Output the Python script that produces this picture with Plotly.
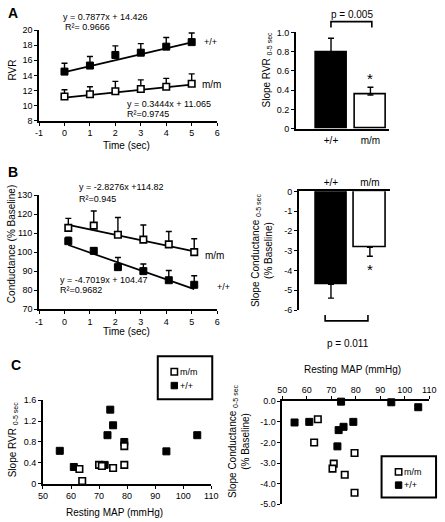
import plotly.graph_objects as go

W, H = 445, 522
FONT = "Liberation Sans, Arial, sans-serif"


def px(x):
    return x / W


def py(y):
    return 1 - y / H


# ---------------- data ----------------
# Panel A (RVR vs time)
time_a = [0, 1, 2, 3, 4, 5]
rvr_wt = [14.5, 15.3, 16.7, 17.0, 17.8, 18.4]
rvr_wt_err = [1.1, 1.2, 1.2, 1.2, 1.2, 1.2]
rvr_mm = [11.2, 11.5, 11.9, 12.2, 12.5, 12.9]
rvr_mm_err = [0.9, 1.0, 1.3, 1.2, 1.1, 1.3]
fit_a_wt = (0.7877, 14.426)
fit_a_mm = (0.3444, 11.065)

genotypes = ["+/+", "m/m"]
slope_rvr = [0.79, 0.35]
slope_rvr_err = [0.15, 0.08]
star_rvr = 0.52          # height of the significance star (panel A right)

# Panel B (conductance vs time)
time_b = [0.15, 1.15, 2.1, 3.1, 4.1, 5.1]
cond_wt = [105.8, 100.7, 92.1, 90.0, 85.2, 82.8]
cond_wt_err = [2.1, 1.7, 5.1, 3.8, 5.1, 4.8]
cond_mm = [112.8, 114.0, 109.2, 106.6, 104.1, 100.0]
cond_mm_err = [5.0, 7.7, 9.1, 7.7, 6.8, 7.1]
fit_b_wt = (-4.7019, 104.47)
fit_b_mm = (-2.8276, 114.82)

slope_cond = [-4.70, -2.83]
slope_cond_err = [0.70, 0.45]
star_cond = -3.95        # height of the significance star (panel B right)

# Panel C (slopes vs resting MAP)
map_rvr_wt = [56, 61, 74, 75, 73, 79, 72, 94, 105]
srvr_wt = [0.63, 0.32, 1.42, 1.12, 0.93, 0.80, 0.36, 0.62, 0.93]
map_rvr_mm = [63, 64, 70, 71, 75, 79, 79]
srvr_mm = [0.28, 0.05, 0.36, 0.34, 0.30, 0.72, 0.36]

map_cond_wt = [55, 61, 74, 79, 75, 73, 72.5, 94.5, 105.5]
scond_wt = [-1.03, -1.00, -0.02, -1.00, -1.24, -1.40, -2.19, -0.05, -0.29]
map_cond_mm = [64.5, 63, 71, 70.5, 75.5, 79.5, 79.5]
scond_mm = [-0.87, -2.00, -3.03, -3.27, -3.57, -2.51, -4.44]

# tick labels
time_ticks = [-1, 0, 1, 2, 3, 4, 5, 6]
time_ticktext = ["-1", "0", "1", "2", "3", "4", "5", "6"]
rvr_slope_ticks = [0, 0.2, 0.4, 0.6, 0.8, 1.0]
rvr_slope_ticktext = ["0", "0.2", "0.4", "0.6", "0.8", "1.0"]
cond_slope_ticks = [0, -1, -2, -3, -4, -5, -6]
cond_slope_ticktext = ["0", "-1", "-2", "-3", "-4", "-5", "-6"]
c_rvr_ticks = [0, 0.4, 0.8, 1.2, 1.6]
c_rvr_ticktext = ["0", "0.4", "0.8", "1.2", "1.6"]
c_cond_ticks = [0, -1, -2, -3, -4, -5]
c_cond_ticktext = ["0.0", "-1.0", "-2.0", "-3.0", "-4.0", "-5.0"]

# ---------------- styles ----------------
BLACK_MK = dict(symbol="square", size=7, color="black", line=dict(color="black", width=1))
WHITE_MK = dict(symbol="square", size=6.5, color="white", line=dict(color="black", width=1.6))


def err(arr, minus=None):
    return dict(type="data", array=arr, arrayminus=minus if minus is not None else [0] * len(arr),
                symmetric=False, color="black", thickness=1.4, width=3)


fig = go.Figure()

# ---- Panel A left ----
for (m, b), t in [(fit_a_wt, time_a), (fit_a_mm, time_a)]:
    xs = [t[0], t[-1]]
    fig.add_trace(go.Scatter(x=xs, y=[m * x + b for x in xs], mode="lines",
                             line=dict(color="black", width=1.7), showlegend=False,
                             hoverinfo="skip", xaxis="x", yaxis="y"))
fig.add_trace(go.Scatter(x=time_a, y=rvr_wt, mode="markers", marker=BLACK_MK, name="+/+",
                         error_y=err(rvr_wt_err), showlegend=False, cliponaxis=False,
                         xaxis="x", yaxis="y"))
fig.add_trace(go.Scatter(x=time_a, y=rvr_mm, mode="markers", marker=WHITE_MK, name="m/m",
                         error_y=err(rvr_mm_err), showlegend=False, cliponaxis=False,
                         xaxis="x", yaxis="y"))

# ---- Panel A right ----
fig.add_trace(go.Bar(x=genotypes, y=slope_rvr, width=0.79,
                     marker=dict(color=["black", "white"], line=dict(color="black", width=1.6)),
                     error_y=err(slope_rvr_err), showlegend=False, xaxis="x2", yaxis="y2"))

# ---- Panel B left ----
for (m, b), t in [(fit_b_wt, time_b), (fit_b_mm, time_b)]:
    xs = [t[0], t[-1]]
    fig.add_trace(go.Scatter(x=xs, y=[m * x + b for x in xs], mode="lines",
                             line=dict(color="black", width=1.7), showlegend=False,
                             hoverinfo="skip", xaxis="x3", yaxis="y3"))
fig.add_trace(go.Scatter(x=time_b, y=cond_wt, mode="markers", marker=BLACK_MK, name="+/+",
                         error_y=err(cond_wt_err), showlegend=False, cliponaxis=False,
                         xaxis="x3", yaxis="y3"))
fig.add_trace(go.Scatter(x=time_b, y=cond_mm, mode="markers", marker=WHITE_MK, name="m/m",
                         error_y=err(cond_mm_err), showlegend=False, cliponaxis=False,
                         xaxis="x3", yaxis="y3"))

# ---- Panel B right ----
fig.add_trace(go.Bar(x=genotypes, y=slope_cond, width=0.8,
                     marker=dict(color=["black", "white"], line=dict(color="black", width=1.6)),
                     error_y=err([0, 0], slope_cond_err), showlegend=False,
                     xaxis="x4", yaxis="y4"))

# ---- Panel C left ----
fig.add_trace(go.Scatter(x=map_rvr_wt, y=srvr_wt, mode="markers", name="+/+",
                         marker=BLACK_MK, showlegend=False, cliponaxis=False,
                         xaxis="x5", yaxis="y5"))
fig.add_trace(go.Scatter(x=map_rvr_mm, y=srvr_mm, mode="markers", name="m/m",
                         marker=WHITE_MK, showlegend=False, cliponaxis=False,
                         xaxis="x5", yaxis="y5"))

# ---- Panel C right ----
fig.add_trace(go.Scatter(x=map_cond_wt, y=scond_wt, mode="markers", name="+/+",
                         marker=BLACK_MK, showlegend=False, cliponaxis=False,
                         xaxis="x6", yaxis="y6"))
fig.add_trace(go.Scatter(x=map_cond_mm, y=scond_mm, mode="markers", name="m/m",
                         marker=WHITE_MK, showlegend=False, cliponaxis=False,
                         xaxis="x6", yaxis="y6"))

# ---------------- axes ----------------
AX = dict(showline=True, linecolor="black", linewidth=1.7, ticks="outside", ticklen=3,
          tickwidth=1.4, tickcolor="black", showgrid=False, zeroline=False,
          tickfont=dict(size=9, color="black", family=FONT), fixedrange=True)

layout_axes = dict(
    xaxis=dict(AX, domain=[px(35), px(218)], range=[-1, 6], tickvals=time_ticks,
               ticktext=time_ticktext, anchor="y"),
    yaxis=dict(AX, domain=[py(118), py(25.5)], range=[8, 20], dtick=2, anchor="x"),
    xaxis2=dict(AX, domain=[px(299), px(395)], type="category", categoryarray=genotypes,
                range=[-0.89, 1.48], ticks="", anchor="y2", ticklabelstandoff=2,
                tickfont=dict(size=10, color="black", family=FONT)),
    yaxis2=dict(AX, domain=[py(126), py(28)], range=[0, 1], tickvals=rvr_slope_ticks,
                ticktext=rvr_slope_ticktext, anchor="x2"),
    xaxis3=dict(AX, domain=[px(35), px(218)], range=[-1, 6], tickvals=time_ticks,
                ticktext=time_ticktext, anchor="y3"),
    yaxis3=dict(AX, domain=[py(310), py(194)], range=[70, 130], dtick=10, anchor="x3"),
    xaxis4=dict(AX, domain=[px(302), px(396)], type="category", categoryarray=genotypes,
                range=[-0.825, 1.525], ticks="", side="top", anchor="y4",
                tickfont=dict(size=10, color="black", family=FONT)),
    yaxis4=dict(AX, domain=[py(311), py(190)], range=[-6, 0], tickvals=cond_slope_ticks,
                ticktext=cond_slope_ticktext, anchor="x4"),
    xaxis5=dict(AX, domain=[px(39), px(212)], range=[50, 110], dtick=10, anchor="y5"),
    yaxis5=dict(AX, domain=[py(488), py(403)], range=[0, 1.6], tickvals=c_rvr_ticks,
                ticktext=c_rvr_ticktext, anchor="x5"),
    xaxis6=dict(AX, domain=[px(285), px(436)], range=[50, 110], dtick=10, side="top",
                anchor="y6"),
    yaxis6=dict(AX, domain=[py(509), py(404)], range=[-5, 0], tickvals=c_cond_ticks,
                ticktext=c_cond_ticktext, anchor="x6"),
)

# ---------------- annotations ----------------
ann = []


def text(x, y, s, size=9, xanchor="center", angle=0, bold=False):
    ann.append(dict(x=px(x), y=py(y), xref="paper", yref="paper",
                    text=("<b>%s</b>" % s) if bold else s,
                    showarrow=False, xanchor=xanchor, yanchor="middle", textangle=angle,
                    font=dict(size=size, color="black", family=FONT)))


text(8, 8, "A", 14, bold=True)
text(8, 170, "B", 14, bold=True)
text(11, 367, "C", 14, bold=True)

# Panel A
text(58, 12, "y = 0.7877x + 14.426", 9, "left")
text(60, 22, "R²= 0.9666", 9, "left")
text(123, 101, "y = 0.3444x + 11.065", 9, "left")
text(123, 111, "R²=0.9745", 9, "left")
text(202, 38, "+/+", 9, "left")
text(200, 81, "m/m", 10, "left")
text(8, 66, "RVR", 10, angle=-90)
text(125, 143, "Time (sec)", 10)
text(269, 66, "Slope RVR <sub>0-5 sec</sub>", 10, angle=-90)
text(357, 10, "p = 0.005", 10)

# Panel B
text(74, 186, "y = -2.8276x +114.82", 9, "left")
text(74, 198, "R²=0.945", 9, "left")
text(54, 280, "y = -4.7019x + 104.47", 9, "left")
text(54, 291, "R²=0.9682", 9, "left")
text(203, 255, "m/m", 10, "left")
text(216, 288, "+/+", 9, "left")
text(7, 244, "Conductance (% Baseline)", 10, angle=-90)
text(125, 333, "Time (sec)", 10)
text(264, 250, "Slope Conductance <sub>0-5 sec</sub><br>(% Baseline)", 10, angle=-90)
text(353, 345, "p = 0.011", 10)

# significance stars anchored to the bar axes
ann.append(dict(x=genotypes[1], y=star_rvr, xref="x2", yref="y2", text="*", showarrow=False,
                xanchor="center", yanchor="middle",
                font=dict(size=15, color="black", family=FONT)))
ann.append(dict(x=genotypes[1], y=star_cond, xref="x4", yref="y4", text="*", showarrow=False,
                xanchor="center", yanchor="middle",
                font=dict(size=15, color="black", family=FONT)))

# Panel C
text(8, 443, "Slope RVR <sub>0-5 sec</sub>", 10, angle=-90)
text(113, 517, "Resting MAP (mmHg)", 10)
text(241, 445, "Slope Conductance <sub>0-5 sec</sub><br>(% Baseline)", 10, angle=-90)
text(357, 372, "Resting MAP (mmHg)", 10)

# brackets
shapes = [
    dict(type="path", xref="paper", yref="paper",
         path="M %f,%f L %f,%f L %f,%f L %f,%f" % (px(335), py(23), px(335), py(17),
                                                   px(377), py(17), px(377), py(23)),
         line=dict(color="black", width=1.6)),
    dict(type="path", xref="paper", yref="paper",
         path="M %f,%f L %f,%f L %f,%f L %f,%f" % (px(329), py(316), px(329), py(322),
                                                   px(373), py(322), px(373), py(316)),
         line=dict(color="black", width=1.6)),
]


# legend boxes (key for panel C)
def legend_box(x0, y0, x1, y1, sym_x, text_x, y_mm, y_wt):
    shapes.append(dict(type="rect", xref="paper", yref="paper", x0=px(x0), x1=px(x1),
                       y0=py(y1), y1=py(y0), line=dict(color="black", width=2),
                       fillcolor="white", layer="below"))
    for yy, fill, lw in [(y_mm, "white", 1.5), (y_wt, "black", 1)]:
        shapes.append(dict(type="rect", xref="paper", yref="paper",
                           x0=px(sym_x - 3.3), x1=px(sym_x + 3.3),
                           y0=py(yy + 3.3), y1=py(yy - 3.3),
                           line=dict(color="black", width=lw), fillcolor=fill))
    text(text_x, y_mm, "m/m", 9, "left")
    text(text_x, y_wt, "+/+", 9, "left")


legend_box(157, 358, 213, 402, 174, 178, 374, 388)
legend_box(387, 460, 443, 502, 404.5, 408.5, 476, 489.5)

fig.update_layout(
    width=W, height=H, margin=dict(l=0, r=0, t=0, b=0),
    paper_bgcolor="white", plot_bgcolor="white",
    font=dict(family=FONT, color="black", size=9),
    bargap=0, annotations=ann, shapes=shapes, showlegend=False,
    **layout_axes,
)

fig.write_html("out.html", config={"displayModeBar": False},
               post_script="document.body.style.margin='0';")
